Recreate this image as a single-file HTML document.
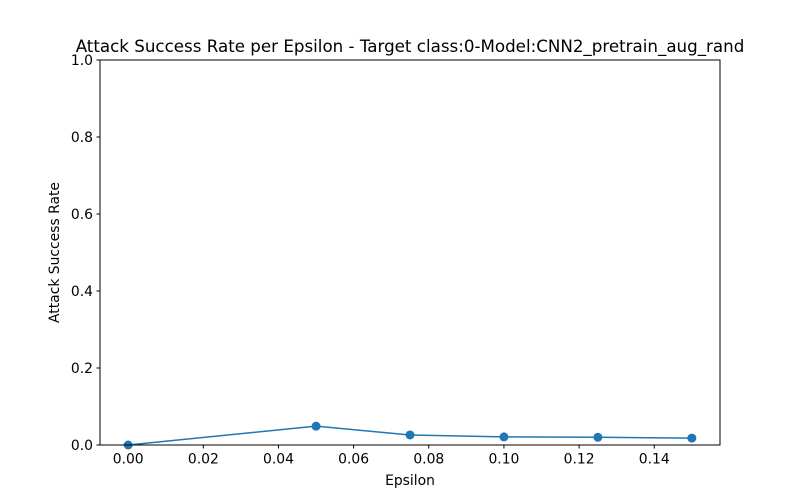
<!DOCTYPE html>
<html>
<head>
<meta charset="utf-8">
<style>
  html,body{margin:0;padding:0;background:#fff;}
  svg{display:block;font-family:"DejaVu Sans","Liberation Sans",sans-serif;}
</style>
</head>
<body>
<svg id="chart" width="800" height="500" xmlns="http://www.w3.org/2000/svg">
  <rect x="0" y="0" width="800" height="500" fill="#fff"/>
  <text x="410" y="52" text-anchor="middle" font-size="16.7" fill="#000">Attack Success Rate per Epsilon - Target class:0-Model:CNN2_pretrain_aug_rand</text>
  <g id="xticks"></g>
  <g id="yticks"></g>
  <g id="series"></g>
  <rect x="100" y="60" width="620" height="385" fill="none" stroke="#000" stroke-width="1"/>
  <text x="410" y="485" text-anchor="middle" font-size="13.9">Epsilon</text>
  <text x="0" y="0" transform="translate(59,252.5) rotate(-90)" text-anchor="middle" font-size="13.9">Attack Success Rate</text>
</svg>
<script>
const epsilons = [0, 0.05, 0.075, 0.1, 0.125, 0.15];
const successRates = [0, 0.049, 0.026, 0.021, 0.020, 0.018];
const xTickValues = [0, 0.02, 0.04, 0.06, 0.08, 0.10, 0.12, 0.14];
const xTickLabels = ["0.00","0.02","0.04","0.06","0.08","0.10","0.12","0.14"];
const yTickValues = [0, 0.2, 0.4, 0.6, 0.8, 1.0];
const yTickLabels = ["0.0","0.2","0.4","0.6","0.8","1.0"];

const NS = "http://www.w3.org/2000/svg";
const L = 100, R = 720, T = 60, B = 445;
const xMin = -0.0075, xMax = 0.1575, yMin = 0, yMax = 1;
function xs(v){ return L + (v - xMin) / (xMax - xMin) * (R - L); }
function ys(v){ return B - (v - yMin) / (yMax - yMin) * (B - T); }
function mk(tag, attrs){ const e = document.createElementNS(NS, tag); for (const k in attrs) e.setAttribute(k, attrs[k]); return e; }

const xg = document.getElementById('xticks');
xTickValues.forEach((v, i) => {
  const x = xs(v);
  const t = mk('line', {x1:x, x2:x, y1:B, y2:B+3.5, stroke:'#000', 'stroke-width':1});
  
  
  xg.appendChild(t);
  const lb = mk('text', {x:x, y:B+18.5, 'text-anchor':'middle', 'font-size':13.9});
  lb.textContent = xTickLabels[i];
  
  
  xg.appendChild(lb);
});
const yg = document.getElementById('yticks');
yTickValues.forEach((v, i) => {
  const y = ys(v);
  const t = mk('line', {x1:L-3.5, x2:L, y1:y, y2:y, stroke:'#000', 'stroke-width':1});
  
  
  yg.appendChild(t);
  const lb = mk('text', {x:L-7, y:y+5, 'text-anchor':'end', 'font-size':13.9});
  lb.textContent = yTickLabels[i];
  
  
  yg.appendChild(lb);
});
const sg = document.getElementById('series');
const pts = epsilons.map((e, i) => xs(e) + ',' + ys(successRates[i])).join(' ');
const line = mk('polyline', {points:pts, fill:'none', stroke:'#1f77b4', 'stroke-width':1.5});


sg.appendChild(line);
epsilons.forEach((e, i) => {
  const c = mk('circle', {cx:xs(e), cy:ys(successRates[i]), r:4.5, fill:'#1f77b4'});
  
  
  sg.appendChild(c);
});
</script>
</body>
</html>
